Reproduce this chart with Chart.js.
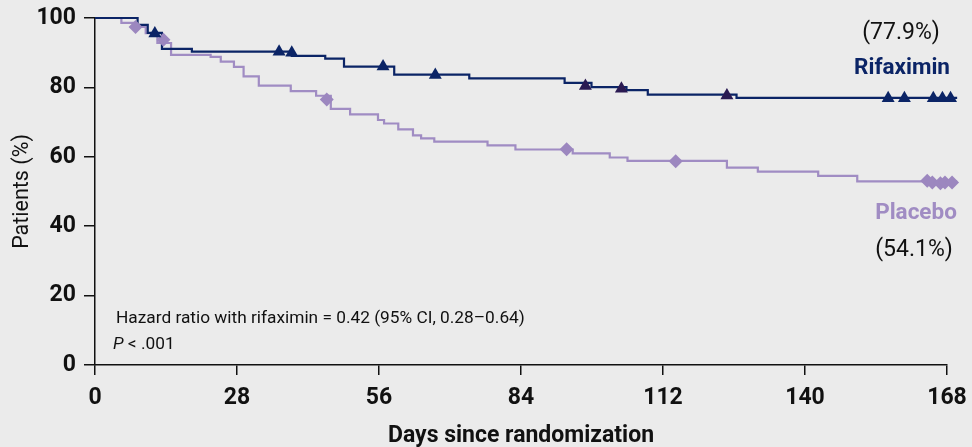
<!DOCTYPE html>
<html lang="en">
<head>
    <meta charset="UTF-8">
    <title>Time to breakthrough HE</title>
    <script src="https://cdn.jsdelivr.net/npm/chart.js"></script>
    <style>
        html, body { margin: 0; padding: 0; background: #ebebeb; }
        #wrap { width: 972px; height: 447px; }
    </style>
</head>
<body>
    <div id="wrap"><canvas id="kmChart" width="972" height="447"></canvas></div>

    <script>
        // step points: day, % of patients
        const rifDays = [0, 8.4, 10.4, 13.2, 19.1, 38.8, 45.4, 49.1, 59.0, 73.8, 92.6, 97.9, 104.8, 109.0, 126.5, 170];
        const rifPct  = [100, 98.0, 95.7, 91.1, 90.3, 89.1, 88.3, 86.0, 83.7, 82.6, 81.3, 80.1, 79.2, 77.9, 77.0, 77.0];

        const plaDays = [0, 5.2, 8.0, 10.0, 12.3, 15.0, 22.8, 24.8, 27.4, 29.3, 32.3, 38.6, 43.6, 46.5, 50.3, 55.8, 57.0, 59.8, 62.7, 64.3, 66.9, 77.4, 82.9, 94.2, 101.5, 105.0, 124.6, 130.7, 142.6, 150.3, 170];
        const plaPct  = [100, 98.6, 97.4, 95.6, 92.8, 89.4, 88.8, 87.4, 85.9, 83.2, 80.5, 78.9, 77.6, 73.8, 72.2, 70.6, 69.6, 67.9, 66.2, 65.3, 64.4, 63.3, 62.1, 61.0, 59.8, 58.8, 56.9, 55.7, 54.5, 52.9, 52.9];

        // censored patients
        const rifCensorDays = [11.8, 36.3, 38.8, 56.8, 67.1, 96.7, 103.8, 124.6, 156.4, 159.6, 165.3, 167.1, 168.7, 170.1];
        const rifCensorPct  = [95.5, 90.3, 90.0, 86.0, 83.6, 80.4, 79.6, 77.7, 76.9, 76.9, 76.9, 76.9, 76.9, 76.9];
        const plaCensorDays = [8.0, 13.5, 45.7, 93.0, 114.5, 164.1, 165.1, 166.7, 167.6, 169.0, 170.1];
        const plaCensorPct  = [97.4, 93.7, 76.5, 62.2, 58.7, 53.1, 52.6, 52.4, 52.6, 52.6, 52.8];

        const xTicks = [0, 28, 56, 84, 112, 140, 168];
        const yTicks = [0, 20, 40, 60, 80, 100];

        const navy = '#0b2466';
        const lilac = '#a08cc3';

        const toPoints = (xs, ys) => xs.map((x, i) => ({ x: x, y: ys[i] }));

        const bgPlugin = {
            id: 'bg',
            beforeDraw(chart) {
                const c = chart.ctx;
                c.save();
                c.fillStyle = '#ebebeb';
                c.fillRect(0, 0, chart.width, chart.height);
                c.restore();
            }
        };

        const labelsPlugin = {
            id: 'labels',
            afterDraw(chart) {
                const c = chart.ctx;
                c.save();
                c.textBaseline = 'middle';
                c.textAlign = 'center';
                c.fillStyle = '#111';
                c.font = '23px Roboto';
                c.fillText('(77.9%)', 901, 33);
                c.fillText('(54.1%)', 914, 250);
                c.font = 'bold 22.5px Roboto';
                c.fillStyle = navy;
                c.fillText('Rifaximin', 902, 68);
                c.fillStyle = lilac;
                c.fillText('Placebo', 916, 213);

                c.textAlign = 'left';
                c.fillStyle = '#111';
                c.font = '17.3px Roboto';
                c.fillText('Hazard ratio with rifaximin = 0.42 (95% CI, 0.28\u20130.64)', 116, 319);
                c.font = 'italic 17.3px Roboto';
                c.fillText('P', 113, 345);
                const w = c.measureText('P').width;
                c.font = '17.3px Roboto';
                c.fillText(' < .001', 113 + w, 345);
                c.restore();
            }
        };

        const ctx = document.getElementById('kmChart').getContext('2d');
        new Chart(ctx, {
            type: 'line',
            data: {
                datasets: [
                    {
                        label: 'Placebo',
                        data: toPoints(plaDays, plaPct),
                        borderColor: lilac,
                        borderWidth: 2.2,
                        stepped: true,
                        pointRadius: 0,
                        fill: false,
                        clip: false,
                        order: 4
                    },
                    {
                        label: 'Rifaximin',
                        data: toPoints(rifDays, rifPct),
                        borderColor: navy,
                        borderWidth: 2.2,
                        stepped: true,
                        pointRadius: 0,
                        fill: false,
                        clip: false,
                        order: 3
                    },
                    {
                        label: 'Placebo censored',
                        data: toPoints(plaCensorDays, plaCensorPct),
                        showLine: false,
                        pointStyle: 'rectRot',
                        pointRadius: 7,
                        pointBackgroundColor: '#9c87bf',
                        pointBorderColor: '#9c87bf',
                        pointBorderWidth: 0,
                        clip: false,
                        order: 2
                    },
                    {
                        label: 'Rifaximin censored',
                        data: toPoints(rifCensorDays, rifCensorPct),
                        showLine: false,
                        pointStyle: 'triangle',
                        pointRadius: 7.5,
                        pointBackgroundColor: rifCensorDays.map((d, i) => (i >= 5 && i <= 7) ? '#2a1a52' : navy),
                        pointBorderColor: rifCensorDays.map((d, i) => (i >= 5 && i <= 7) ? '#2a1a52' : navy),
                        pointBorderWidth: 0,
                        clip: false,
                        order: 1
                    }
                ]
            },
            options: {
                responsive: false,
                animation: false,
                events: [],
                layout: { padding: { top: 18, right: 25, left: 0, bottom: 0 } },
                plugins: {
                    legend: { display: false },
                    tooltip: { enabled: false }
                },
                scales: {
                    x: {
                        type: 'linear',
                        min: 0,
                        max: 168,
                        afterFit: (scale) => {
                            scale.height = 82;
                            scale.paddingLeft = 0;
                            scale.paddingRight = 0;
                        },
                        afterBuildTicks: (scale) => { scale.ticks = xTicks.map(v => ({ value: v })); },
                        ticks: {
                            color: '#111',
                            font: { family: 'Roboto', size: 23, weight: 'bold' },
                            padding: 9,
                            maxRotation: 0
                        },
                        grid: {
                            drawOnChartArea: false,
                            color: '#111',
                            lineWidth: 1.5,
                            tickLength: 10
                        },
                        border: { color: '#111', width: 1.5 },
                        title: {
                            display: true,
                            text: 'Days since randomization',
                            color: '#111',
                            font: { family: 'Roboto', size: 23, weight: 'bold', lineHeight: 0.9 },
                            padding: { top: 0, bottom: 0 }
                        }
                    },
                    y: {
                        min: 0,
                        max: 100,
                        afterFit: (scale) => {
                            scale.width = 95;
                            scale.paddingTop = 0;
                            scale.paddingBottom = 0;
                        },
                        afterBuildTicks: (scale) => { scale.ticks = yTicks.map(v => ({ value: v })); },
                        ticks: {
                            color: '#111',
                            font: { family: 'Roboto', size: 23, weight: 'bold' },
                            padding: 8
                        },
                        grid: {
                            drawOnChartArea: false,
                            color: '#111',
                            lineWidth: 1.5,
                            tickLength: 11
                        },
                        border: { color: '#111', width: 1.5 },
                        title: {
                            display: true,
                            text: 'Patients (%)',
                            color: '#111',
                            font: { family: 'Roboto', size: 21.5 },
                            padding: { top: 10, bottom: 0 }
                        }
                    }
                }
            },
            plugins: [bgPlugin, labelsPlugin]
        });
    </script>
</body>
</html>
